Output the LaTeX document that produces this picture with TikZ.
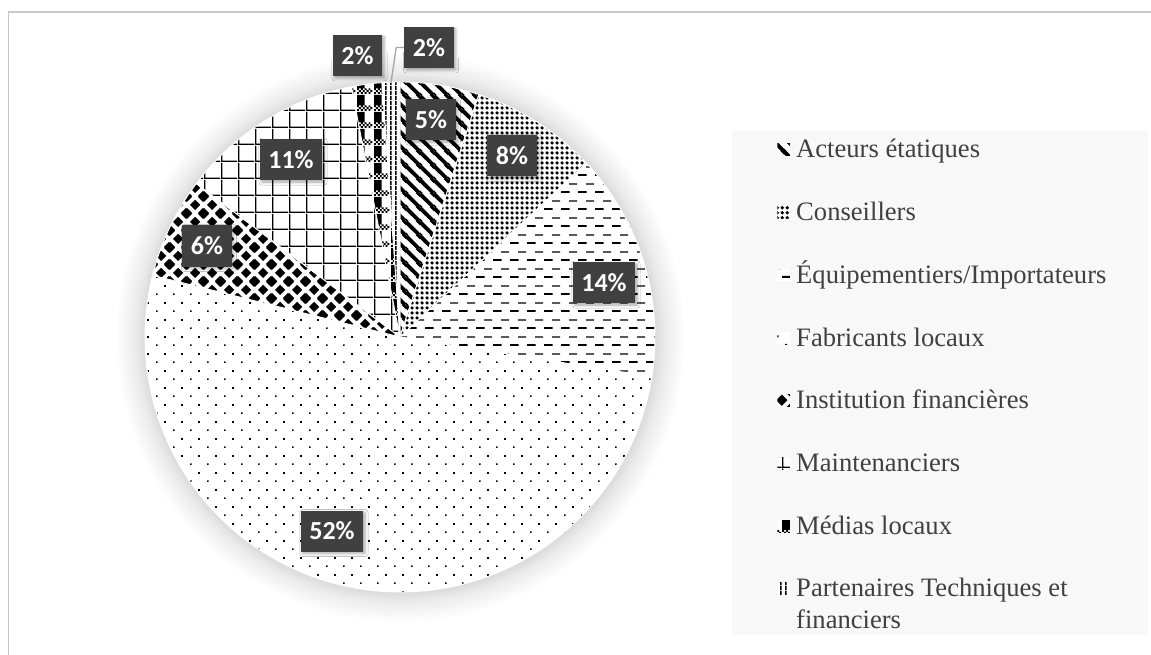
\documentclass[tikz,border=0pt]{standalone}
\usepackage{fontspec}
\setmainfont{Liberation Serif}
\newfontfamily\labelfont{Carlito}
\usetikzlibrary{patterns,shadows.blur}

\definecolor{framegray}{HTML}{C8C8C8}
\definecolor{legendbg}{HTML}{F8F8F8}
\definecolor{lblgray}{HTML}{404040}
\definecolor{legtext}{HTML}{404040}
\definecolor{leadergray}{HTML}{A6A6A6}

% --- fill patterns of the eight slices ---
\pgfdeclarepatternformonly{acteursP}{\pgfqpoint{0pt}{0pt}}{\pgfqpoint{14pt}{14pt}}{\pgfqpoint{14pt}{14pt}}{%
  \pgfsetlinewidth{4pt}%
  \pgfpathmoveto{\pgfqpoint{-7pt}{7pt}}\pgfpathlineto{\pgfqpoint{7pt}{-7pt}}%
  \pgfpathmoveto{\pgfqpoint{0pt}{14pt}}\pgfpathlineto{\pgfqpoint{14pt}{0pt}}%
  \pgfpathmoveto{\pgfqpoint{7pt}{21pt}}\pgfpathlineto{\pgfqpoint{21pt}{7pt}}%
  \pgfusepath{stroke}}
\pgfdeclarepatternformonly{conseillersP}{\pgfqpoint{0pt}{0pt}}{\pgfqpoint{5pt}{5pt}}{\pgfqpoint{5pt}{5pt}}{%
  \pgfpathmoveto{\pgfqpoint{2.5pt}{0.35pt}}\pgfpathlineto{\pgfqpoint{4.65pt}{2.5pt}}%
  \pgfpathlineto{\pgfqpoint{2.5pt}{4.65pt}}\pgfpathlineto{\pgfqpoint{0.35pt}{2.5pt}}\pgfpathclose
  \pgfusepath{fill}}
\pgfdeclarepatternformonly{equipP}{\pgfqpoint{0pt}{0pt}}{\pgfqpoint{17pt}{17pt}}{\pgfqpoint{17pt}{17pt}}{%
  \pgfpathrectangle{\pgfqpoint{0pt}{3.2pt}}{\pgfqpoint{9pt}{2pt}}%
  \pgfpathrectangle{\pgfqpoint{8.5pt}{12.1pt}}{\pgfqpoint{8.5pt}{1.3pt}}%
  \pgfusepath{fill}}
\pgfdeclarepatternformonly{fabP}{\pgfqpoint{0pt}{0pt}}{\pgfqpoint{17pt}{17pt}}{\pgfqpoint{17pt}{17pt}}{%
  \pgfpathrectangle{\pgfqpoint{3.2pt}{3.2pt}}{\pgfqpoint{1.8pt}{1.8pt}}%
  \pgfpathrectangle{\pgfqpoint{11.7pt}{11.7pt}}{\pgfqpoint{1.8pt}{1.8pt}}%
  \pgfusepath{fill}}
\pgfdeclarepatternformonly{instP}{\pgfqpoint{0pt}{0pt}}{\pgfqpoint{17pt}{17pt}}{\pgfqpoint{17pt}{17pt}}{%
  \foreach \cx/\cy in {0/0,17/0,0/17,17/17,8.5/8.5}{%
    \pgfpathmoveto{\pgfpoint{\cx pt-5.4pt}{\cy pt}}%
    \pgfpathlineto{\pgfpoint{\cx pt}{\cy pt+5.4pt}}%
    \pgfpathlineto{\pgfpoint{\cx pt+5.4pt}{\cy pt}}%
    \pgfpathlineto{\pgfpoint{\cx pt}{\cy pt-5.4pt}}\pgfpathclose}%
  \pgfusepath{fill}}
\pgfdeclarepatternformonly{maintP}{\pgfqpoint{0pt}{0pt}}{\pgfqpoint{17pt}{17pt}}{\pgfqpoint{17pt}{17pt}}{%
  \pgfpathrectangle{\pgfqpoint{0pt}{0pt}}{\pgfqpoint{1.5pt}{17pt}}%
  \pgfpathrectangle{\pgfqpoint{0pt}{0pt}}{\pgfqpoint{17pt}{1.5pt}}%
  \pgfusepath{fill}}
\pgfdeclarepatternformonly{mediasP}{\pgfqpoint{0pt}{0pt}}{\pgfqpoint{17pt}{17pt}}{\pgfqpoint{17pt}{17pt}}{%
  \pgfpathrectangle{\pgfqpoint{0pt}{6pt}}{\pgfqpoint{8pt}{11pt}}%
  \foreach \i in {0,...,7}{\foreach \j in {0,1,2}{%
    \pgfmathtruncatemacro\chk{mod(\i+\j,2)}%
    \ifnum\chk=0 \pgfpathrectangle{\pgfpoint{2*\i pt}{2*\j pt}}{\pgfqpoint{2pt}{2pt}}\fi}}%
  \pgfusepath{fill}}
\pgfdeclarepatternformonly{partP}{\pgfqpoint{0pt}{0pt}}{\pgfqpoint{5pt}{5pt}}{\pgfqpoint{5pt}{5pt}}{%
  \pgfpathrectangle{\pgfqpoint{0pt}{0pt}}{\pgfqpoint{1.8pt}{5pt}}%
  \pgfusepath{fill}}

% soft halo around the pie (25bp = edge of the shaded circle)
\pgfdeclareradialshading{pieglow}{\pgfpointorigin}{%
  color(0bp)=(black!15); color(22.3bp)=(black!15); color(23.2bp)=(black!8);
  color(25bp)=(white); color(50bp)=(white)}

\tikzset{
  slicefill/.style={preaction={fill=white}, pattern=#1, draw=white, line width=0.9pt},
  lbl/.style={fill=lblgray, text=white, font=\labelfont\bfseries\fontsize{26}{30}\selectfont,
    inner xsep=8.5pt, inner ysep=0pt, minimum height=41pt,
    blur shadow={shadow xshift=2pt, shadow yshift=-2pt, shadow blur radius=3pt, shadow opacity=35}},
  legentry/.style={anchor=base west, inner sep=0pt, text=legtext, font=\fontsize{26.6}{31}\selectfont},
  legmark/.style={preaction={fill=white}, pattern=#1, minimum width=12.5pt, minimum height=12pt, inner sep=0pt}
}

% slice from clockwise angle #1 to #2 (degrees from 12 o'clock)
\newcommand\pieslice[3]{%
  \path[slicefill=#3] (0,0) -- (#1-90:255) arc[start angle=#1-90, end angle=#2-90, radius=255] -- cycle;}

\begin{document}
\begin{tikzpicture}[x=1pt,y=-1pt]
\useasboundingbox (0,0) rectangle (1151,655);

% outer frame
\draw[framegray, line width=1.8pt] (8.5,655) -- (8.5,11.7) -- (1151,11.7);

% legend backdrop
\fill[legendbg] (732,131) rectangle (1148,635);

% halo and pie
\shade[shading=pieglow] (400,337) circle[radius=285];
\begin{scope}[shift={(400,337)}]
  \pieslice{0}{18}{acteursP}
  \pieslice{18}{47}{conseillersP}
  \pieslice{47}{99}{equipP}
  \pieslice{99}{284}{fabP}
  \pieslice{284}{307}{instP}
  \pieslice{307}{349}{maintP}
  \pieslice{349}{356}{mediasP}
  \pieslice{356}{360}{partP}
  \coordinate (pe) at (268:255);
\end{scope}

% data labels
\node[lbl] (lb5)  at (431,119.5) {5\%};
\node[lbl] (lb8)  at (512,156)   {8\%};
\node[lbl] (lb14) at (604,282.5) {14\%};
\node[lbl] (lb52) at (332,531)   {52\%};
\node[lbl] (lb6)  at (207,246)   {6\%};
\node[lbl] (lb11) at (291,159.5) {11\%};
\node[lbl] (lbm)  at (357.5,55.5){2\%};
\node[lbl] (lbp)  at (429,47.5)  {2\%};
\draw[leadergray, line width=1.3pt] (lbp.west) -- ++(-8,0) -- (pe);

% legend
\node[legmark=acteursP]     (m1) at (783.5,150) {};
\node[legmark=conseillersP] (m2) at (783.5,212.7) {};
\node[legmark=equipP]       (m3) at (783.5,275.4) {};
\node[legmark=fabP]         (m4) at (783.5,338.1) {};
\node[legmark=instP]        (m5) at (783.5,400.8) {};
\node[legmark=maintP]       (m6) at (783.5,463.5) {};
\node[legmark=mediasP]      (m7) at (783.5,526.2) {};
\node[legmark=partP]        (m8) at (783.5,588.9) {};

\node[legentry] (t1) at (796,158)   {Acteurs étatiques};
\node[legentry] (t2) at (796,220.7) {Conseillers};
\node[legentry] (t3) at (796,283.4) {Équipementiers/Importateurs};
\node[legentry] (t4) at (796,346.1) {Fabricants locaux};
\node[legentry] (t5) at (796,408.8) {Institution financières};
\node[legentry] (t6) at (796,471.5) {Maintenanciers};
\node[legentry] (t7) at (796,534.2) {Médias locaux};
\node[legentry] (t8) at (796,596.9) {Partenaires Techniques et};
\node[legentry] (t8b) at (796,628.5) {financiers};
\end{tikzpicture}
\end{document}
